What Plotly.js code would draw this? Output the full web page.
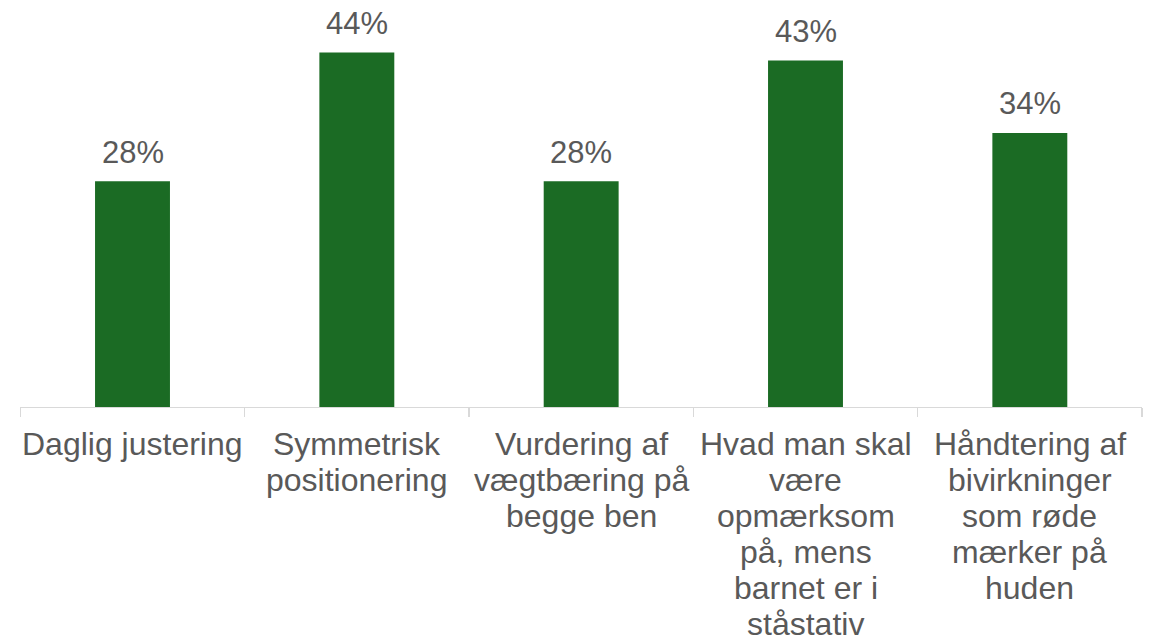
<!DOCTYPE html>
<html>
<head>
<meta charset="utf-8">
<script src="https://cdn.plot.ly/plotly-3.0.1.min.js"></script>
<style>html,body{margin:0;padding:0;background:#fff;}#chart{width:1149px;height:642px;}</style>
</head>
<body>
<div id="chart"></div>
<script>
const categories = [
  "Daglig justering",
  "Symmetrisk positionering",
  "Vurdering af vægtbæring på begge ben",
  "Hvad man skal være opmærksom på, mens barnet er i ståstativ",
  "Håndtering af bivirkninger som røde mærker på huden"
];
const labelLines = [
  ["Daglig justering"],
  ["Symmetrisk", "positionering"],
  ["Vurdering af", "vægtbæring på", "begge ben"],
  ["Hvad man skal", "være", "opmærksom", "på, mens", "barnet er i", "ståstativ"],
  ["Håndtering af", "bivirkninger", "som røde", "mærker på", "huden"]
];
const values = [28, 44, 28, 43, 34];
const valueLabels = ["28%", "44%", "28%", "43%", "34%"];

const textColor = "#595959";
const fontFam = "Liberation Sans, Arial, sans-serif";
const valueFontSize = 31;
const catFontSize = 32;
const lineGap = 36;

const annotations = [];
values.forEach((v, i) => {
  annotations.push({
    x: categories[i], y: v, xref: "x", yref: "y",
    text: valueLabels[i], showarrow: false,
    yanchor: "middle", yshift: 29,
    font: {family: fontFam, size: valueFontSize, color: textColor}
  });
});
labelLines.forEach((lines, i) => {
  lines.forEach((ln, j) => {
    annotations.push({
      x: categories[i], y: 0, xref: "x", yref: "paper",
      text: ln, showarrow: false,
      yanchor: "middle", yshift: -36.5 - j * lineGap,
      font: {family: fontFam, size: catFontSize, color: textColor}
    });
  });
});

const trace = {
  type: "bar",
  x: categories,
  y: values,
  marker: {color: "rgb(27,107,36)"},
  width: 0.334,
  hoverinfo: "skip"
};

const layout = {
  width: 1149, height: 642,
  margin: {l: 20, r: 7, t: 0, b: 234.5},
  paper_bgcolor: "#ffffff", plot_bgcolor: "#ffffff",
  showlegend: false,
  xaxis: {
    type: "category",
    showticklabels: false,
    tickson: "boundaries",
    ticks: "outside", ticklen: 9, tickcolor: "#d9d9d9", tickwidth: 1.3,
    showline: true, linecolor: "#d9d9d9", linewidth: 1.3,
    showgrid: false, zeroline: false, fixedrange: true
  },
  yaxis: {
    range: [0, 50.5],
    visible: false, showgrid: false, zeroline: false, fixedrange: true
  },
  annotations: annotations
};

Plotly.newPlot("chart", [trace], layout, {staticPlot: true, displayModeBar: false});
</script>
</body>
</html>
